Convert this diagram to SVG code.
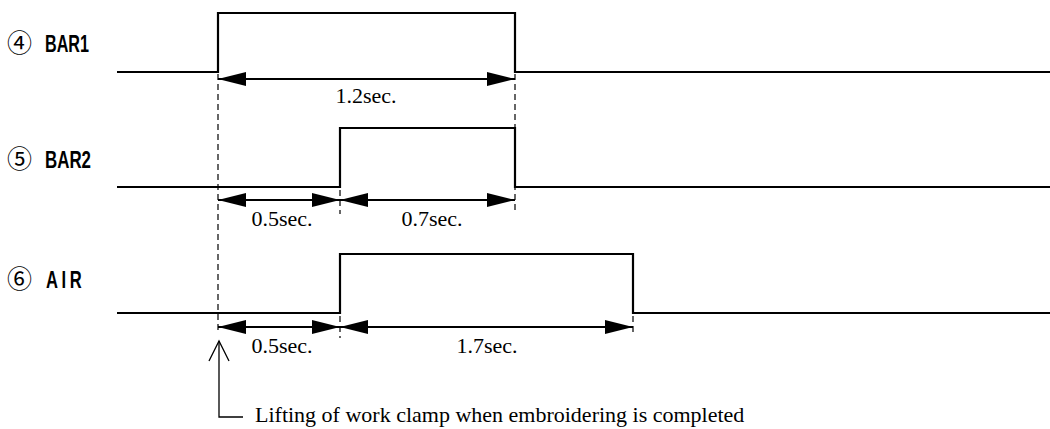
<svg xmlns="http://www.w3.org/2000/svg" width="1050" height="429" viewBox="0 0 1050 429">
<style>
.sig{fill:none;stroke:#000;stroke-width:2.2;stroke-linejoin:miter}
.dim{fill:none;stroke:#000;stroke-width:2}
.dash{fill:none;stroke:#000;stroke-width:1.2;stroke-dasharray:6,4}
.lbl{font-family:"Liberation Sans",Arial,sans-serif;font-size:23px;font-weight:bold;fill:#000}
.num{font-family:"Noto Sans CJK JP","DejaVu Sans",sans-serif;font-size:25px;fill:#000}
.t{font-family:"Liberation Serif","Times New Roman",serif;font-size:22px;fill:#000}
</style>
<defs>
<marker id="ah" viewBox="0 0 28 14" refX="28" refY="7" markerWidth="28" markerHeight="14" markerUnits="userSpaceOnUse" orient="auto-start-reverse">
<path d="M0,0 L28,7 L0,14 Z" fill="#000"/>
</marker>
</defs>
<g id="bar1">
<text class="num" x="7" y="52">④</text>
<text class="lbl" x="45" y="52" textLength="44" lengthAdjust="spacingAndGlyphs">BAR1</text>
<path class="sig" d="M117,72 H218 V13 H515 V72 H1050"/>
</g>
<g id="bar2">
<text class="num" x="7" y="168">⑤</text>
<text class="lbl" x="45" y="168" textLength="46" lengthAdjust="spacingAndGlyphs">BAR2</text>
<path class="sig" d="M117,187 H340 V128 H515 V187 H1050"/>
</g>
<g id="air">
<text class="num" x="7" y="288">⑥</text>
<text class="lbl" transform="translate(46,288) scale(0.72,1)" letter-spacing="5">AIR</text>
<path class="sig" d="M117,313 H340 V254 H633 V313 H1050"/>
</g>
<g id="connectors">
<path class="dash" d="M218,74 V334"/>
<path class="dash" d="M515,74 V214"/>
<path class="dash" d="M340,190 V214"/>
<path class="dash" d="M340,316 V338"/>
<path class="dash" d="M633,316 V336"/>
<line class="dim" x1="218" y1="79" x2="515" y2="79" marker-start="url(#ah)" marker-end="url(#ah)"/>
<line class="dim" x1="218" y1="200" x2="340" y2="200" marker-start="url(#ah)" marker-end="url(#ah)"/>
<line class="dim" x1="340" y1="200" x2="515" y2="200" marker-start="url(#ah)" marker-end="url(#ah)"/>
<line class="dim" x1="218" y1="327" x2="340" y2="327" marker-start="url(#ah)" marker-end="url(#ah)"/>
<line class="dim" x1="340" y1="327" x2="633" y2="327" marker-start="url(#ah)" marker-end="url(#ah)"/>
<path d="M219,341 V417 H243" fill="none" stroke="#000" stroke-width="1.3"/>
<path d="M209,361 L219,341 L229,361" fill="none" stroke="#000" stroke-width="1.3"/>
</g>
<g id="labels">
<text class="t" x="366" y="103" text-anchor="middle">1.2sec.</text>
<text class="t" x="282" y="226" text-anchor="middle">0.5sec.</text>
<text class="t" x="432" y="226" text-anchor="middle">0.7sec.</text>
<text class="t" x="282" y="353" text-anchor="middle">0.5sec.</text>
<text class="t" x="487" y="353" text-anchor="middle">1.7sec.</text>
<text class="t" x="255" y="422">Lifting of work clamp when embroidering is completed</text>
</g>
</svg>
